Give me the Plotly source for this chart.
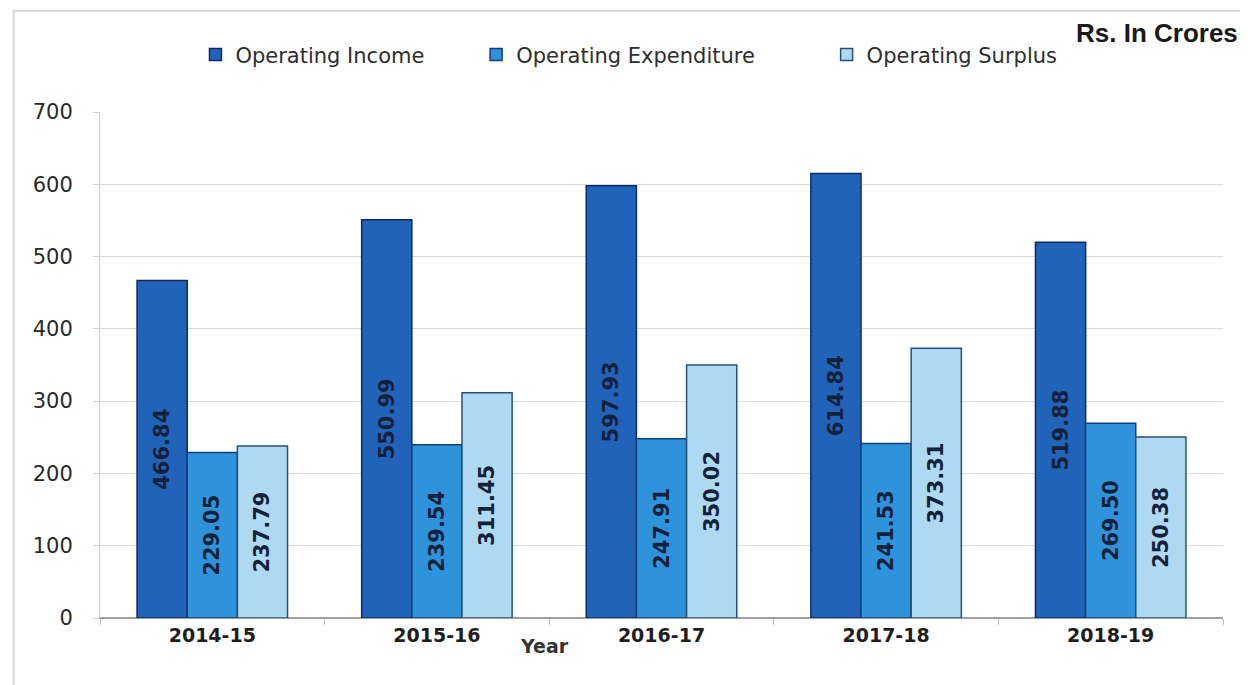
import plotly.graph_objects as go

years = ["2014-15", "2015-16", "2016-17", "2017-18", "2018-19"]
operating_income = [466.84, 550.99, 597.93, 614.84, 519.88]
operating_expenditure = [229.05, 239.54, 247.91, 241.53, 269.50]
operating_surplus = [237.79, 311.45, 350.02, 373.31, 250.38]
series_names = ["Operating Income", "Operating Expenditure", "Operating Surplus"]

styles = [("#2163b8", "#0b2a70"), ("#2e93db", "#0e3f80"), ("#afd9f0", "#2a4f78")]
legend_labels = [series_names[0] + "\u00a0" * 7, series_names[1] + "\u00a0" * 10, series_names[2]]

fig = go.Figure()
for name, label, vals, (color, line) in zip(series_names, legend_labels,
                                            [operating_income, operating_expenditure, operating_surplus],
                                            styles):
    fig.add_trace(go.Bar(
        x=years, y=vals, name=label,
        marker=dict(color=color, line=dict(color=line, width=1.5)),
        text=[f"<b>{v:.2f}</b>" for v in vals],
        textposition="inside", insidetextanchor="middle", textangle=-90,
        textfont=dict(family="DejaVu Sans", size=21, color="#14213a"),
        constraintext="none",
    ))

fig.update_layout(
    width=1248, height=685,
    margin=dict(l=92, r=33, t=104, b=75),
    paper_bgcolor="white", plot_bgcolor="white",
    barmode="group", bargap=0.33, bargroupgap=0.0,
    font=dict(family="DejaVu Sans", color="#333333"),
    legend=dict(orientation="h", x=0.085, y=1.113, xanchor="left", yanchor="middle",
                font=dict(family="DejaVu Sans", size=21, color="#2e2e2e"),
                itemwidth=30, traceorder="normal"),
    yaxis=dict(range=[0, 700], dtick=100, showgrid=True, gridcolor="#d9d9d9",
               showline=True, linecolor="#d0d0d0", ticks="outside", ticklen=6,
               tickcolor="#d0d0d0", tickfont=dict(family="DejaVu Sans", size=21, color="#2a2a2a"),
               zeroline=True, zerolinecolor="#a0a0a0", ticklabelstandoff=16),
    xaxis=dict(showline=True, linecolor="#a0a0a0", ticks="outside", tickson="boundaries",
               ticklen=6, tickcolor="#c0c0c0",
               tickfont=dict(family="DejaVu Sans", size=19, color="#1e1e1e", weight="bold")),
    annotations=[
        dict(text="<b>Rs. In Crores</b>", xref="paper", yref="paper", x=1.015, y=1.156,
             xanchor="right", yanchor="middle", showarrow=False,
             font=dict(family="Liberation Sans", size=26, color="#1a1a1a")),
        dict(text="<b>Year</b>", xref="paper", yref="paper", x=0.396, y=-0.055,
             xanchor="center", yanchor="middle", showarrow=False,
             font=dict(family="DejaVu Sans", size=19, color="#333333")),
    ],
    shapes=[
        dict(type="rect", xref="paper", yref="paper", x0=-0.077, x1=1.04, y0=-0.2, y1=1.2,
             line=dict(color="#d8d8d8", width=2), fillcolor="rgba(0,0,0,0)", layer="below"),
    ],
)

fig.write_html("out.html")
